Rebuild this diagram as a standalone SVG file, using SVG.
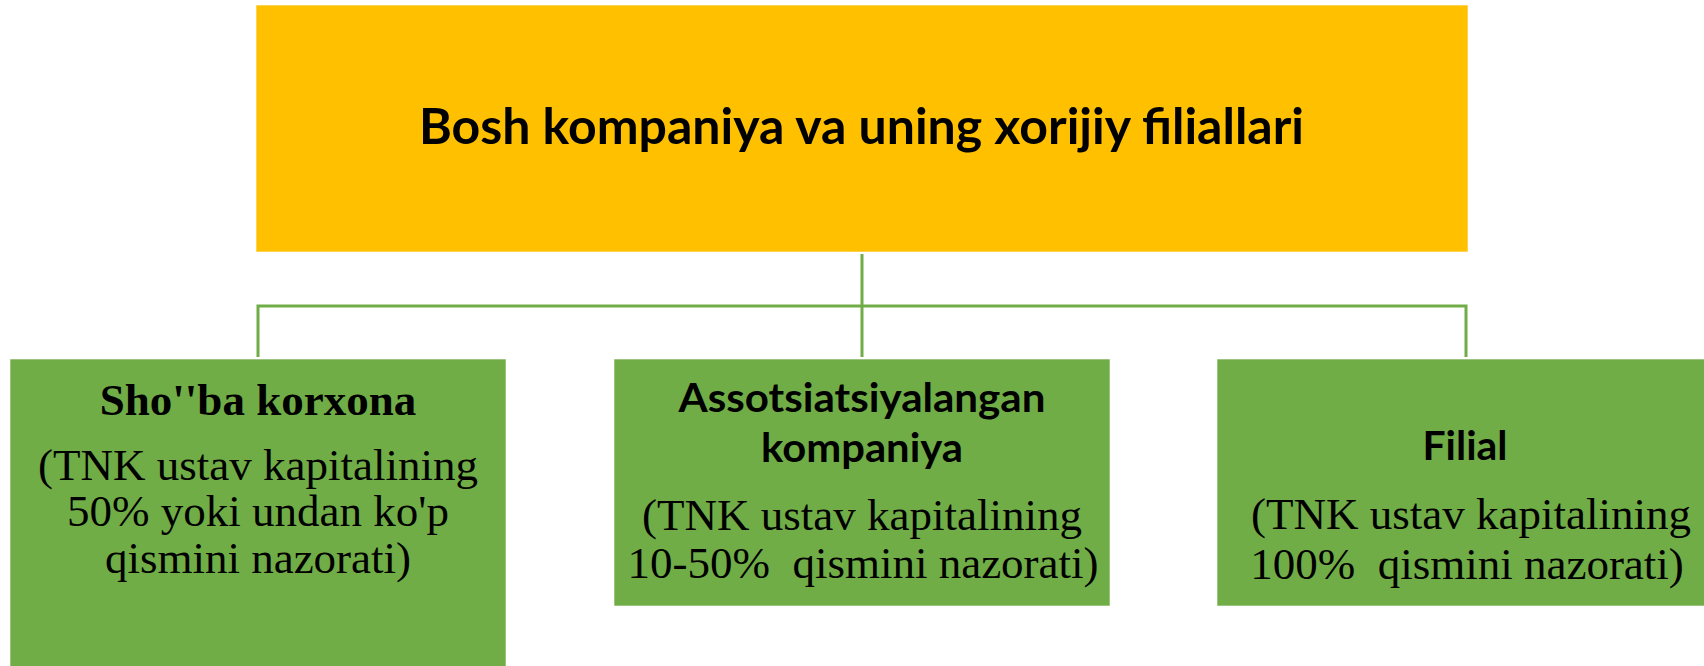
<svg xmlns="http://www.w3.org/2000/svg" width="1704" height="666" viewBox="0 0 1704 666">
<style>
.top{fill:#FFC000;stroke:#ffffff;stroke-opacity:0.6;stroke-width:1}
.box{fill:#70AD47;stroke:#ffffff;stroke-opacity:0.6;stroke-width:1}
.conn{stroke:#70AD47;stroke-width:3;fill:none}
.sans{font-family:Lato,"Open Sans","Liberation Sans",sans-serif;font-weight:bold;fill:#000;text-anchor:middle}
.serif{font-family:"Liberation Serif","Times New Roman",serif;font-size:45px;fill:#000;text-anchor:middle;white-space:pre}
.serifb{font-family:"Liberation Serif","Times New Roman",serif;font-size:45px;font-weight:bold;fill:#000;text-anchor:middle}
</style>
<rect width="1704" height="666" fill="#ffffff"/>
<g id="connectors">
<line class="conn" x1="862" y1="254" x2="862" y2="357"/>
<polyline class="conn" points="258,357 258,306 1466,306 1466,357"/>
</g>
<g id="node-top">
<rect class="top" x="256" y="5" width="1212" height="247"/>
<text class="sans" x="861.5" y="144" font-size="50" textLength="885" lengthAdjust="spacingAndGlyphs">Bosh kompaniya va uning xorijiy filiallari</text>
</g>
<g id="node-shoba">
<rect class="box" x="10" y="359" width="496" height="320"/>
<text class="serifb" x="258" y="415">Sho''ba korxona</text>
<text class="serif" x="258" y="480">(TNK ustav kapitalining</text>
<text class="serif" x="258" y="526">50% yoki undan ko'p</text>
<text class="serif" x="258" y="573">qismini nazorati)</text>
</g>
<g id="node-assots">
<rect class="box" x="614" y="359" width="496" height="247"/>
<text class="sans" x="862" y="412" font-size="40" textLength="367" lengthAdjust="spacingAndGlyphs">Assotsiatsiyalangan</text>
<text class="sans" x="862" y="462" font-size="40" textLength="202" lengthAdjust="spacingAndGlyphs">kompaniya</text>
<text class="serif" x="862" y="530">(TNK ustav kapitalining</text>
<text class="serif" x="863" y="578">10-50%  qismini nazorati)</text>
</g>
<g id="node-filial">
<rect class="box" x="1217" y="359" width="500" height="247"/>
<text class="sans" x="1465" y="460" font-size="40" textLength="85" lengthAdjust="spacingAndGlyphs">Filial</text>
<text class="serif" x="1471" y="529">(TNK ustav kapitalining</text>
<text class="serif" x="1467" y="579">100%  qismini nazorati)</text>
</g>
</svg>
